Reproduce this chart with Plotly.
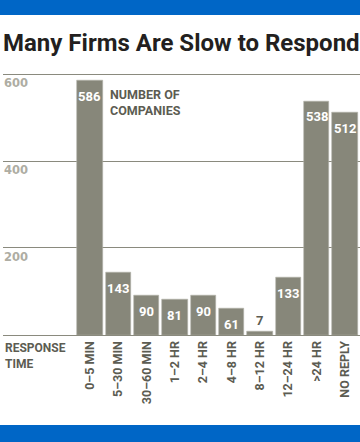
import plotly.graph_objects as go

categories = ["0–5 MIN", "5–30 MIN", "30–60 MIN", "1–2 HR", "2–4 HR",
              "4–8 HR", "8–12 HR", "12–24 HR", ">24 HR", "NO REPLY"]
values = [586, 143, 90, 81, 90, 61, 7, 133, 538, 512]
y_ticks = [200, 400, 600]
y_tick_labels = ["200", "400", "600"]

BAR = "#87877a"
DARK = "#5c5c52"
LIGHT = "#aeada3"
BLUE = "#0066c6"

YMAX = 615
PX_PER = 0.435
x = list(range(len(categories)))

fig = go.Figure()
fig.add_trace(go.Bar(
    x=x, y=values, width=0.9,
    marker=dict(color=BAR, line=dict(color="#b4b4aa", width=0.6)),
    hoverinfo="skip",
))

annotations = []
for xi, v in zip(x, values):
    if v >= 40:
        annotations.append(dict(x=xi, y=v, xref="x", yref="y", text=f"<b>{v}</b>",
                                showarrow=False, yshift=-16,
                                font=dict(family="Roboto", size=13, color="white")))
    else:
        annotations.append(dict(x=xi, y=v, xref="x", yref="y", text=f"<b>{v}</b>",
                                showarrow=False, yshift=11,
                                font=dict(family="Roboto", size=13, color=DARK)))

for t, lab in zip(y_ticks, y_tick_labels):
    annotations.append(dict(x=2 / 360, y=t, xref="paper", yref="y", xanchor="left",
                            yanchor="middle", yshift=-9, text=f"<b>{lab}</b>", showarrow=False,
                            font=dict(family="DejaVu Sans", size=11.5, color=LIGHT)))

annotations.append(dict(x=0.62, y=535, xref="x", yref="y", xanchor="left", yanchor="middle",
                        text="<b>NUMBER OF<br>COMPANIES</b>", align="left", showarrow=False,
                        font=dict(family="Roboto", size=12.5, color=DARK)))
annotations.append(dict(x=0.008, y=(442 - 339) / 442, xref="paper", yref="paper",
                        xanchor="left", yanchor="top", align="left",
                        text="<b>RESPONSE<br>TIME</b>", showarrow=False,
                        font=dict(family="Roboto", size=12, color=DARK)))
annotations.append(dict(x=0.004, y=(442 - 43) / 442, xref="paper", yref="paper",
                        xanchor="left", yanchor="middle",
                        text="<b>Many Firms Are Slow to Respond</b>", showarrow=False,
                        font=dict(family="Roboto", size=24, color="#231f20")))

shapes = [
    dict(type="rect", xref="paper", yref="paper", x0=0, x1=1, y0=1 - 15 / 442, y1=1,
         fillcolor=BLUE, line=dict(width=0), layer="above"),
    dict(type="rect", xref="paper", yref="paper", x0=0, x1=1, y0=0, y1=17 / 442,
         fillcolor=BLUE, line=dict(width=0), layer="above"),
]

top_px = 335 - YMAX * PX_PER

fig.update_layout(
    width=360, height=442,
    margin=dict(l=0, r=0, t=0, b=0),
    paper_bgcolor="white", plot_bgcolor="white",
    showlegend=False, bargap=0,
    annotations=annotations, shapes=shapes,
    xaxis=dict(
        domain=[3 / 360, 1],
        range=[-3.07, 9.53],
        tickmode="array", tickvals=x, ticktext=[f"<b>{c}</b>" for c in categories],
        tickangle=-90, ticks="", showgrid=False, zeroline=False,
        showline=True, linecolor="#8a8a7e", linewidth=1.2,
        tickfont=dict(family="Roboto", size=12.5, color=DARK),
        anchor="y", fixedrange=True,
    ),
    yaxis=dict(
        domain=[(442 - 335) / 442, (442 - top_px) / 442],
        range=[0, YMAX],
        tickmode="array", tickvals=y_ticks, showticklabels=False,
        showgrid=True, gridcolor="#8a8a7e", gridwidth=1,
        zeroline=False, showline=False, ticks="",
        fixedrange=True,
    ),
)

fig.write_html("out.html", config={"displayModeBar": False},
               post_script="document.body.style.margin='0';document.body.style.overflow='hidden';")
